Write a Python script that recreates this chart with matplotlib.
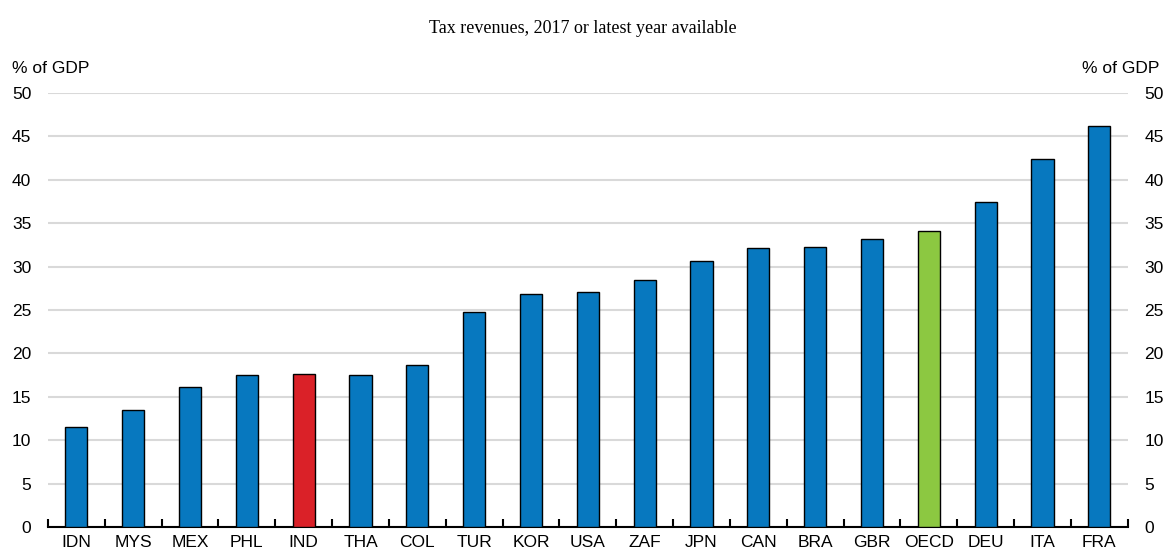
import matplotlib.pyplot as plt
import numpy as np

countries = ["IDN", "MYS", "MEX", "PHL", "IND", "THA", "COL", "TUR", "KOR", "USA",
             "ZAF", "JPN", "CAN", "BRA", "GBR", "OECD", "DEU", "ITA", "FRA"]
tax_revenue = [11.5, 13.5, 16.1, 17.5, 17.6, 17.5, 18.7, 24.8, 26.8, 27.1,
               28.5, 30.6, 32.2, 32.3, 33.2, 34.1, 37.5, 42.4, 46.2]

BLUE = "#0778bf"
RED = "#da2128"
GREEN = "#8cc841"
colors = [RED if c == "IND" else GREEN if c == "OECD" else BLUE for c in countries]

plt.rcParams["font.family"] = ["Liberation Sans", "DejaVu Sans"]

fig = plt.figure(figsize=(11.65, 5.54), dpi=100)
ax = fig.add_axes([0.0412, 0.0487, 0.9268, 0.7833])

x = np.arange(len(countries))
ax.bar(x, tax_revenue, width=0.39, color=colors, edgecolor="black", linewidth=1.0, zorder=3)

ax.set_xlim(-0.5, len(countries) - 0.5)
ax.set_ylim(0, 50)
ax.set_yticks(np.arange(0, 51, 5))
ax.grid(axis="y", color="#d9d9d9", linewidth=1.5, zorder=0)

for side in ["left", "right", "top"]:
    ax.spines[side].set_visible(False)
ax.spines["bottom"].set_linewidth(1.5)

# category ticks sit between bars, pointing up
ax.set_xticks(np.arange(-0.5, len(countries), 1.0))
ax.set_xticklabels([])
ax.tick_params(axis="x", direction="in", length=6, width=1.5)
ax.set_xticks(x, minor=True)
ax.set_xticklabels(countries, minor=True, fontsize=12.5)
ax.tick_params(axis="x", which="minor", length=0, pad=6)

ax.tick_params(axis="y", length=0, labelsize=12.5, pad=12, labelright=True)

fig.text(0.5, 0.948, "Tax revenues, 2017 or latest year available",
         ha="center", va="center", fontsize=13, family="Liberation Serif")
fig.text(0.010, 0.877, "% of GDP", ha="left", va="center", fontsize=12.5)
fig.text(0.995, 0.877, "% of GDP", ha="right", va="center", fontsize=12.5)

fig.savefig("out.png", dpi=100)
